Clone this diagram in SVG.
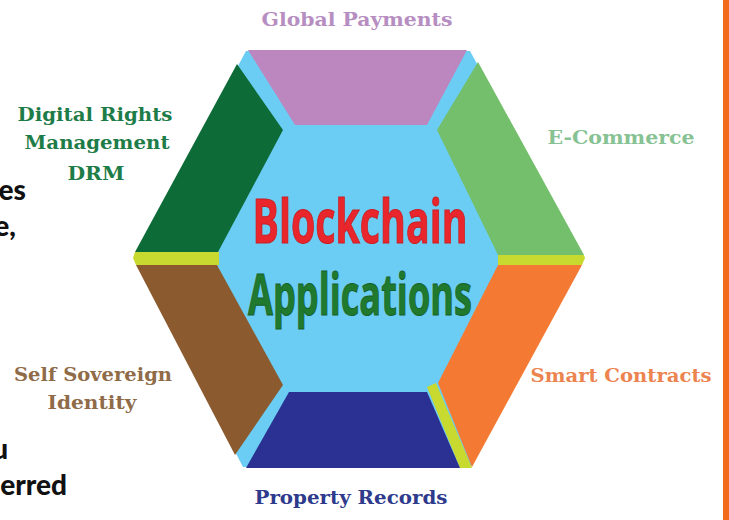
<svg xmlns="http://www.w3.org/2000/svg" width="729" height="520" viewBox="0 0 729 520">
<style>
.lbl{font-family:"DejaVu Serif","Liberation Serif",serif;font-weight:bold;font-size:19px;text-anchor:middle}
.frag{font-family:"Lato","Liberation Sans",sans-serif;font-weight:900;font-size:28px;fill:#111;text-anchor:end}
.title{font-family:"Open Sans","Liberation Sans",sans-serif;font-weight:bold;text-anchor:middle}
</style>
<rect width="729" height="520" fill="#ffffff"/>
<rect x="723" y="0" width="6" height="520" fill="#F26A1B"/>
<g id="fragments">
<text class="frag" x="26" y="200">es</text>
<text class="frag" x="16" y="236">e,</text>
<text class="frag" x="8" y="459">u</text>
<text class="frag" x="67" y="495">erred</text>
</g>
<g id="hexagon">
<polygon points="246,51 470,51 583,258 471,467 243,467 135,258" fill="#6BCDF4"/>
</g>
<g id="global-payments">
<polygon points="248,50 467,50 427,125 295,125" fill="#BC86BF"/>
<text class="lbl" x="357" y="26" fill="#B68EC1" textLength="191" lengthAdjust="spacingAndGlyphs">Global Payments</text>
</g>
<g id="digital-rights">
<polygon points="237,64 283,130 218,252 135,252" fill="#0C6B37"/>
<text class="lbl" x="95" y="121" fill="#1E7C48" textLength="155" lengthAdjust="spacingAndGlyphs">Digital Rights</text>
<text class="lbl" x="97" y="149" fill="#1E7C48" textLength="145" lengthAdjust="spacingAndGlyphs">Management</text>
<text class="lbl" x="96" y="180" fill="#1E7C48" textLength="57" lengthAdjust="spacingAndGlyphs">DRM</text>
</g>
<g id="e-commerce">
<polygon points="478,62 437,130 498,255 584,255" fill="#73BF6B"/>
<text class="lbl" x="621" y="144" fill="#86C293" textLength="147" lengthAdjust="spacingAndGlyphs">E-Commerce</text>
</g>
<g id="bars">
<polygon points="135,252 219,252 219,265 136,265 133,258" fill="#C8DA2F"/>
<polygon points="498,255 584,255 585,258 582,265 498,265" fill="#C8DA2F"/>
<polygon points="427,387 436,383 472,468 460,468" fill="#C8DA2F"/>
</g>
<g id="self-sovereign">
<polygon points="136,265 217,265 283,385 235,455" fill="#8B5A2E"/>
<text class="lbl" x="93" y="381" fill="#8F6B48" textLength="158" lengthAdjust="spacingAndGlyphs">Self Sovereign</text>
<text class="lbl" x="92" y="409" fill="#8F6B48" textLength="89" lengthAdjust="spacingAndGlyphs">Identity</text>
</g>
<g id="smart-contracts">
<polygon points="498,265 582,265 472,467 438,383" fill="#F47A33"/>
<text class="lbl" x="621" y="382" fill="#EC8450" textLength="181" lengthAdjust="spacingAndGlyphs">Smart Contracts</text>
</g>
<g id="property-records">
<polygon points="289,392 427,392 460,468 246,468" fill="#2B3192"/>
<text class="lbl" x="351" y="504" fill="#2E3A8C" textLength="193" lengthAdjust="spacingAndGlyphs">Property Records</text>
</g>
<g id="center">
<text class="title" x="360" y="243" font-size="60" fill="#E8262B" stroke="#C81E22" stroke-width="1" textLength="215" lengthAdjust="spacingAndGlyphs">Blockchain</text>
<text class="title" x="360" y="315" font-size="58" fill="#1F7A2E" stroke="#17612A" stroke-width="1" textLength="224" lengthAdjust="spacingAndGlyphs">Applications</text>
</g>
</svg>
